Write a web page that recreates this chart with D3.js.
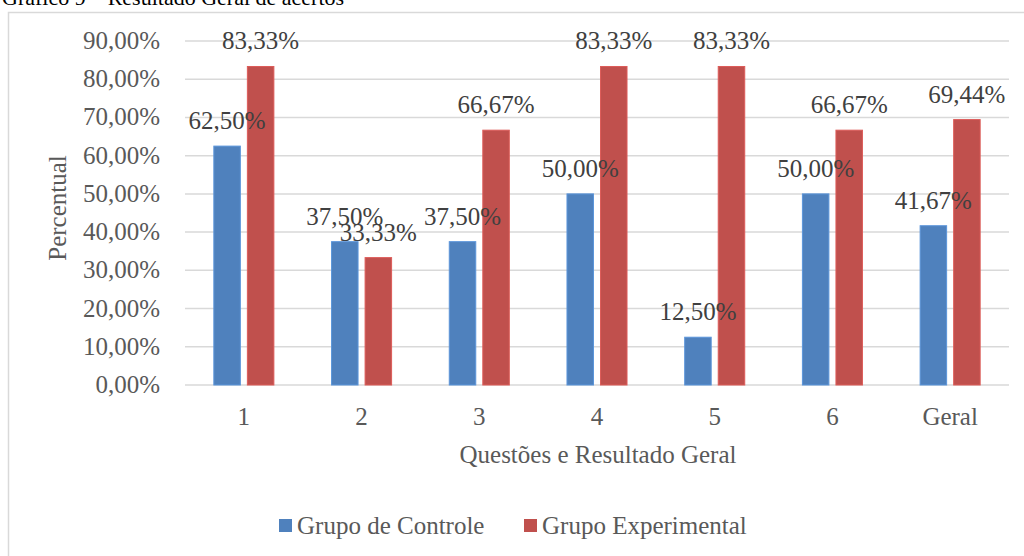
<!DOCTYPE html>
<html>
<head>
<meta charset="utf-8">
<script src="https://cdn.jsdelivr.net/npm/d3@7"></script>
<style>
  body { margin: 0; background: #fff; }
  svg { display: block; font-family: "Liberation Serif", "Times New Roman", serif; }
</style>
</head>
<body>
<svg id="chart" width="1024" height="556"></svg>
<script>
"use strict";

// Categories and series
const categories = ["1", "2", "3", "4", "5", "6", "Geral"];
const seriesNames = ["Grupo de Controle", "Grupo Experimental"];
const controle = [62.50, 37.50, 37.50, 50.00, 12.50, 50.00, 41.67];
const experimental = [83.33, 33.33, 66.67, 83.33, 83.33, 66.67, 69.44];
const yTicks = [0, 10, 20, 30, 40, 50, 60, 70, 80, 90];

const colors = ["#4f81bd", "#c0504d"];
const fmt = v => v.toFixed(2).replace(".", ",") + "%";

const rows = categories.map((c, i) => ({
  cat: c,
  values: [
    {series: seriesNames[0], value: controle[i]},
    {series: seriesNames[1], value: experimental[i]}
  ]
}));

const svg = d3.select("#chart");

// Title (cut off at the top in the original)
svg.append("text")
    .attr("x", 2)
    .attr("y", 5)
    .attr("font-size", 22)
    .attr("fill", "#000")
    .text("Gráfico 9 – Resultado Geral de acertos");

// Chart border
svg.append("rect")
    .attr("x", 8.5)
    .attr("y", 12.5)
    .attr("width", 1030)
    .attr("height", 600)
    .attr("fill", "none")
    .attr("stroke", "#d9d9d9")
    .attr("stroke-width", 1.5);

const plot = {left: 185, right: 1009, top: 41, bottom: 385};

const x0 = d3.scaleBand()
    .domain(categories)
    .range([plot.left, plot.right])
    .paddingInner(0.49)
    .paddingOuter(0.245);

const x1 = d3.scaleBand()
    .domain(seriesNames)
    .range([0, x0.bandwidth()])
    .paddingInner(0.21);

const y = d3.scaleLinear()
    .domain([0, 90])
    .range([plot.bottom, plot.top]);

const color = d3.scaleOrdinal().domain(seriesNames).range(colors);

// Gridlines
svg.append("g")
    .selectAll("line")
    .data(yTicks)
  .enter().append("line")
    .attr("x1", plot.left)
    .attr("x2", plot.right)
    .attr("y1", d => y(d))
    .attr("y2", d => y(d))
    .attr("stroke", "#d9d9d9")
    .attr("stroke-width", 1.5);

// Y axis labels
svg.append("g")
    .selectAll("text")
    .data(yTicks)
  .enter().append("text")
    .attr("x", 160)
    .attr("y", d => y(d))
    .attr("dy", "0.32em")
    .attr("text-anchor", "end")
    .attr("font-size", 25)
    .attr("fill", "#595959")
    .text(d => fmt(d));

// X axis labels
svg.append("g")
    .selectAll("text")
    .data(categories)
  .enter().append("text")
    .attr("x", d => x0(d) + x0.bandwidth() / 2)
    .attr("y", 425)
    .attr("text-anchor", "middle")
    .attr("font-size", 25)
    .attr("fill", "#595959")
    .text(d => d);

// Bars
const groups = svg.append("g")
    .selectAll("g")
    .data(rows)
  .enter().append("g")
    .attr("transform", d => "translate(" + x0(d.cat) + ",0)");

groups.selectAll("rect")
    .data(d => d.values)
  .enter().append("rect")
    .attr("x", d => x1(d.series))
    .attr("y", d => y(d.value))
    .attr("width", x1.bandwidth())
    .attr("height", d => y(0) - y(d.value))
    .attr("fill", d => color(d.series))
    .attr("stroke", d => d3.color(color(d.series)).brighter(0.4))
    .attr("stroke-width", 1);

// Data labels
groups.selectAll("text")
    .data(d => d.values)
  .enter().append("text")
    .attr("x", d => x1(d.series) + x1.bandwidth() / 2)
    .attr("y", d => y(d.value) - 17)
    .attr("text-anchor", "middle")
    .attr("font-size", 25)
    .attr("fill", "#404040")
    .text(d => fmt(d.value));

// Axis titles
svg.append("text")
    .attr("x", 598)
    .attr("y", 463)
    .attr("text-anchor", "middle")
    .attr("font-size", 25)
    .attr("fill", "#595959")
    .text("Questões e Resultado Geral");

svg.append("text")
    .attr("transform", "translate(66,208) rotate(-90)")
    .attr("text-anchor", "middle")
    .attr("font-size", 25)
    .attr("fill", "#595959")
    .text("Percentual");

// Legend
const legendX = [279, 524];
const legend = svg.append("g")
    .selectAll("g")
    .data(seriesNames)
  .enter().append("g")
    .attr("transform", (d, i) => "translate(" + legendX[i] + ",519)");

legend.append("rect")
    .attr("width", 13)
    .attr("height", 13)
    .attr("fill", d => color(d));

legend.append("text")
    .attr("x", 18)
    .attr("y", 15)
    .attr("font-size", 25)
    .attr("fill", "#595959")
    .text(d => d);
</script>
</body>
</html>
